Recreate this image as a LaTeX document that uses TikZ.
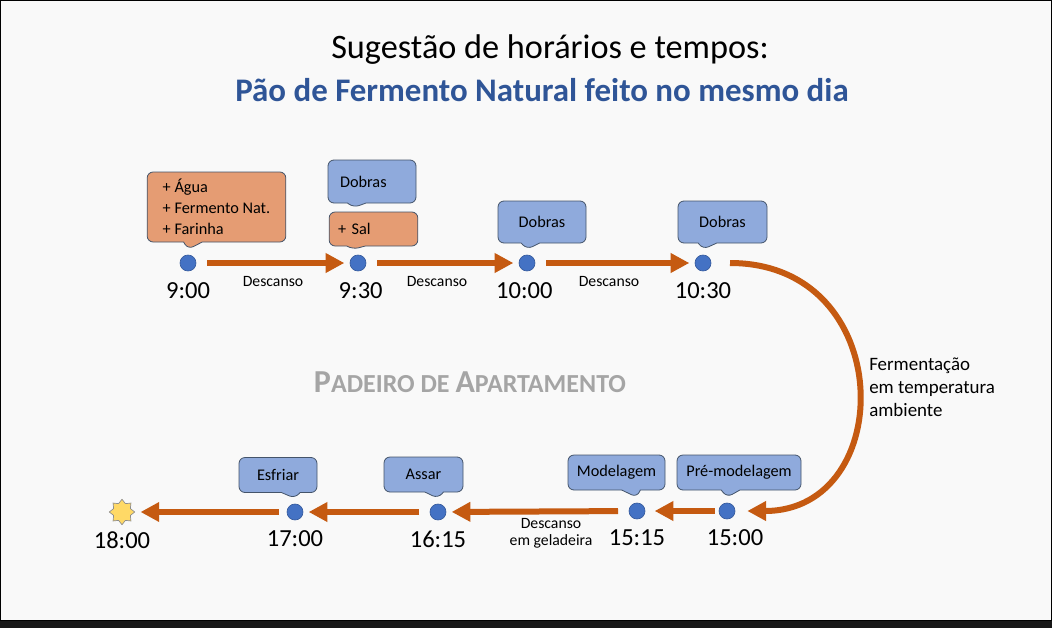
\documentclass[tikz,border=0pt]{standalone}
\usepackage{fontspec}
\setmainfont{Carlito}
\usetikzlibrary{arrows.meta, positioning, shapes.callouts, shapes.geometric}

\definecolor{flowor}{RGB}{197,90,17}
\definecolor{dotblue}{RGB}{68,114,196}
\definecolor{callblue}{RGB}{143,170,220}
\definecolor{callor}{RGB}{229,156,115}
\definecolor{calledge}{RGB}{68,84,106}
\definecolor{titleblue}{RGB}{47,85,151}
\definecolor{bggray}{RGB}{249,249,249}
\definecolor{markgray}{RGB}{165,165,165}
\definecolor{starfill}{RGB}{255,217,102}

\newcommand{\markcap}[1]{{\fontsize{24}{24}\selectfont #1}}

\begin{document}
\begin{tikzpicture}[x=0.75pt, y=-0.75pt]

		\tikzset{
			timedot/.style={
					circle, draw=dotblue!80!black, fill=dotblue, line width=0.5pt, inner sep=0pt, minimum size=12pt
				},
			timelabel/.style={
					font=\fontsize{18.4}{20}\selectfont, inner sep=0pt
				},
			flow/.style={
					draw=flowor, line width=4.5pt, -{Triangle[length=14pt, width=14pt]}, shorten <=8pt, shorten >=4pt
				},
			restlabel/.style={
					font=\fontsize{11.8}{12.8}\selectfont, inner sep=0pt, align=center
				},
			bluecall/.style={
					rectangle callout, draw=calledge, fill=callblue, line width=0.6pt, rounded corners=4.5pt,
					callout pointer width=14pt, font=\fontsize{12.2}{15.75}\selectfont, align=left
				},
			orcall/.style={
					bluecall, fill=callor
				},
		}

		% page
		\fill[bggray] (0,0) rectangle (1052,621);
		\draw[black, line width=0.75pt] (0.5,0.5) rectangle (1051.5,620.5);
		\fill[black!91] (0,621) rectangle (1052,628);
		\useasboundingbox (0,0) rectangle (1052,628);

		\node[font=\fontsize{25.7}{30}\selectfont] (title) at (550,50) {Sugestão de horários e tempos:};
		\node[font=\bfseries\fontsize{24.7}{30}\selectfont, text=titleblue] (subtitle) at (542,90) {Pão de Fermento Natural feito no mesmo dia};

		\node[font=\bfseries, text=markgray] (mark) at (470,382) {\markcap{P}{\fontsize{19.5}{20}\selectfont ADEIRO DE }\markcap{A}{\fontsize{19.5}{20}\selectfont PARTAMENTO}};

		% top row
		\node[timedot] (t900) at (188,263) {};
		\node[timedot] (t930) at (358,263) {};
		\node[timedot] (t1000) at (527,263) {};
		\node[timedot] (t1030) at (703,263) {};

		\node[timelabel, below=8pt of t900] (l900) {9:00};
		\node[timelabel, below=8pt of t930, xshift=2pt] (l930) {9:30};
		\node[timelabel, below=8pt of t1000, xshift=-2pt] (l1000) {10:00};
		\node[timelabel, below=8pt of t1030] (l1030) {10:30};

		\draw[flow] (t900) -- (t930);
		\draw[flow] (t930) -- (t1000);
		\draw[flow] (t1000) -- (t1030);

		\node[restlabel] (r1) at (273,282) {Descanso};
		\node[restlabel] (r2) at (437,282) {Descanso};
		\node[restlabel] (r3) at (609,282) {Descanso};

		% bottom row
		\node[timedot] (t1500) at (727,511) {};
		\node[timedot] (t1515) at (637,511) {};
		\node[timedot] (t1615) at (438,512) {};
		\node[timedot] (t1700) at (295,512) {};
		\node[star, star points=8, star point ratio=1.4, draw=black!45, fill=starfill, line width=0.5pt, inner sep=0pt, minimum size=19pt] (t1800) at (122,512) {};

		\node[timelabel, below=7.5pt of t1500, xshift=6pt] (l1500) {15:00};
		\node[timelabel, below=7.5pt of t1515] (l1515) {15:15};
		\node[timelabel, below=7.5pt of t1615] (l1615) {16:15};
		\node[timelabel, below=7.5pt of t1700] (l1700) {17:00};
		\node[timelabel, below=5pt of t1800] (l1800) {18:00};

		\draw[flow, shorten <=14pt, shorten >=9pt] (t1030) .. controls (898,263) and (898,511) .. (t1500);
		\draw[flow, shorten <=3pt, shorten >=7pt] (t1500) -- (t1515);
		\draw[flow] (t1515) -- (t1615);
		\draw[flow] (t1615) -- (t1700);
		\draw[flow, shorten <=6pt] (t1700) -- (t1800);

		\node[restlabel, font=\fontsize{14.2}{17.25}\selectfont, align=left, anchor=north west] (r4) at (869,358) {Fermentação\\em temperatura\\ambiente};
		\node[restlabel, font=\fontsize{11.8}{12.75}\selectfont] (r5) at (551,533) {Descanso\\em geladeira};

		% callouts
		\node[orcall, minimum width=104pt, minimum height=52.5pt, callout absolute pointer={([yshift=4pt]t900.north)}] (c900) at (216.5,207) {+ Água\\+ Fermento Nat.\\+ Farinha};
		\node[orcall, text width=53pt, inner xsep=6.75pt, minimum height=25.5pt, callout absolute pointer={([xshift=-4pt, yshift=4pt]t930.north)}] (c930s) at (373.5,229) {+ Sal};
		\node[bluecall, text width=48pt, inner xsep=9pt, minimum height=32.25pt, callout absolute pointer={([xshift=-15pt, yshift=3pt]c930s.north)}] (c930d) at (372,181.5) {Dobras};
		\node[bluecall, minimum width=66pt, minimum height=31.5pt, callout absolute pointer={([yshift=4pt]t1000.north)}] (c1000) at (542,222) {Dobras};
		\node[bluecall, minimum width=66.75pt, minimum height=31.5pt, callout absolute pointer={([yshift=4pt]t1030.north)}] (c1030) at (722.5,222) {Dobras};

		\node[bluecall, minimum width=93pt, minimum height=26.25pt, callout absolute pointer={([yshift=4pt]t1500.north)}] (c1500) at (739,472.5) {Pré-modelagem};
		\node[bluecall, minimum width=72.75pt, minimum height=26.25pt, callout absolute pointer={([yshift=4pt]t1515.north)}] (c1515) at (616.5,472.5) {Modelagem};
		\node[bluecall, minimum width=59.25pt, minimum height=26.25pt, callout absolute pointer={([yshift=4pt]t1615.north)}] (c1615) at (423.5,474.5) {Assar};
		\node[bluecall, minimum width=58.5pt, minimum height=26.25pt, callout absolute pointer={([yshift=4pt]t1700.north)}] (c1700) at (278,475) {Esfriar};

	\end{tikzpicture}
\end{document}
